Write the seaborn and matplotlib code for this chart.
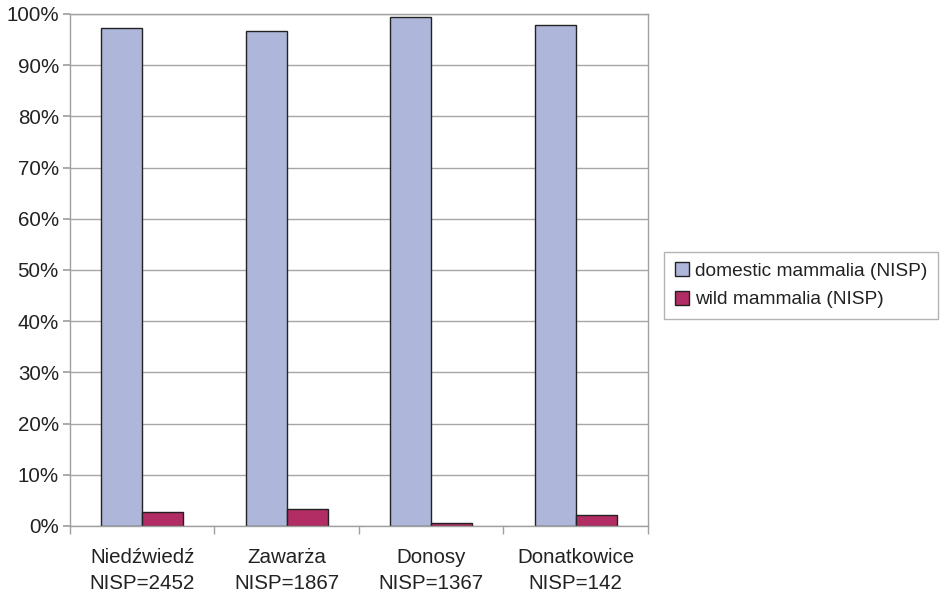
import matplotlib
matplotlib.use("Agg")
import matplotlib.pyplot as plt
import seaborn as sns
import pandas as pd
import numpy as np
from matplotlib.ticker import FixedLocator, PercentFormatter

sites = ["Niedźwiedź\nNISP=2452", "Zawarża\nNISP=1867", "Donosy\nNISP=1367", "Donatkowice\nNISP=142"]
domestic = [97.3, 96.7, 99.5, 97.9]
wild = [2.7, 3.3, 0.5, 2.1]
series_names = ["domestic mammalia (NISP)", "wild mammalia (NISP)"]
colors = ["#AEB6DA", "#B22D64"]

df = pd.DataFrame({
    "site": sites * 2,
    "value": domestic + wild,
    "series": [series_names[0]] * len(sites) + [series_names[1]] * len(sites),
})

sns.set_theme(style="white")
plt.rcParams["font.family"] = ["Liberation Sans", "DejaVu Sans"]

fig = plt.figure(figsize=(9.47, 5.94), dpi=100)
ax = fig.add_axes([0.0739, 0.1145, 0.6103, 0.862])

sns.barplot(data=df, x="site", y="value", hue="series", palette=colors, saturation=1,
            width=0.57, gap=0, edgecolor="#222222", linewidth=1.0, ax=ax, legend=True)

ax.set_ylim(0, 100)
ax.set_xlim(-0.5, len(sites) - 0.5)
ax.set_yticks(np.arange(0, 101, 10))
ax.yaxis.set_major_formatter(PercentFormatter(decimals=0))
ax.grid(axis="y", color="#A6A6A6", linewidth=1.0)
ax.set_axisbelow(True)
for s in ax.spines.values():
    s.set_color("#A0A0A0")
    s.set_linewidth(1.0)
ax.set_xlabel("")
ax.set_ylabel("")
ax.tick_params(axis="y", which="major", left=True, length=5, color="#A0A0A0",
               labelsize=14.8, labelcolor="#222222", pad=3)
ax.tick_params(axis="x", which="major", bottom=False, labelsize=14.8,
               labelcolor="#222222", pad=10)
ax.xaxis.set_minor_locator(FixedLocator(np.arange(-0.5, len(sites), 1.0)))
ax.tick_params(axis="x", which="minor", bottom=True, length=6, color="#A0A0A0")
for lbl in ax.get_xticklabels():
    lbl.set_linespacing(1.45)

leg = ax.legend(loc="center left", bbox_to_anchor=(1.012, 0.47), frameon=True,
                fontsize=13.8, handlelength=0.75, handleheight=0.75, handletextpad=0.3,
                borderpad=0.55, labelspacing=0.55, fancybox=False)
leg.get_frame().set_edgecolor("#A0A0A0")
leg.get_frame().set_linewidth(1.0)
for t in leg.get_texts():
    t.set_color("#222222")

fig.savefig("out.png", dpi=100)
